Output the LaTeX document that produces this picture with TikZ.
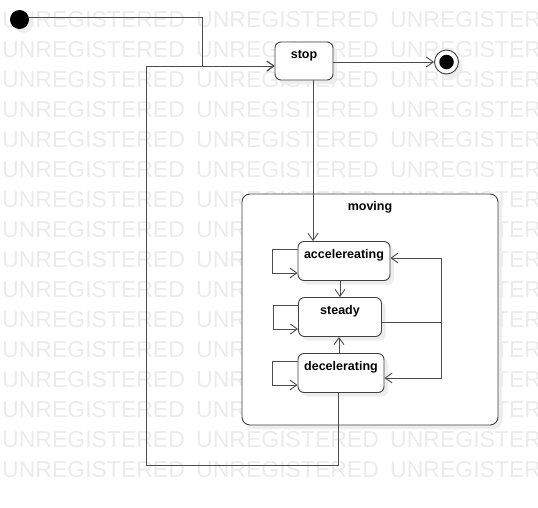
\documentclass[tikz,border=0pt]{standalone}
\usepackage{fontspec}
\setmainfont{Liberation Sans}
\usetikzlibrary{arrows.meta,shadows}
\tikzset{
	statebox/.style={draw=black!75, fill=white, rounded corners=6pt, line width=0.9pt,
		text height=9pt, text depth=15pt, font=\fontsize{12.5}{14}\selectfont\bfseries,
		drop shadow={shadow xshift=4pt, shadow yshift=-4pt, fill=black!7, opacity=1}},
	trans/.style={draw=black!70, line width=0.9pt, -{Straight Barb[length=7pt,width=10pt,line width=0.9pt]}},
	wire/.style={draw=black!70, line width=0.9pt}
}
\begin{document}
\begin{tikzpicture}[x=1pt,y=-1pt]
		\useasboundingbox (0,0) rectangle (538,507);
		\begin{scope}
			\clip (0,0) rectangle (538,507);
			\foreach \row in {0,...,15}
				\foreach \col in {2,196,390}
					\node[anchor=west, inner sep=0pt, text=black!8, font=\fontsize{23}{23}\selectfont] at (\col,20+30*\row) {UNREGISTERED};
		\end{scope}
		\node[statebox, minimum width=256pt, minimum height=231pt, rounded corners=8pt] (moving) at (370,309.5) {};
		\node[anchor=base, font=\fontsize{12.5}{14}\selectfont\bfseries] (movinglbl) at (370,210) {moving};
		\node[statebox, minimum width=58pt, minimum height=38pt] (stop) at (304,61) {stop};
		\node[statebox, minimum width=92pt, minimum height=39pt] (acc) at (344,261) {accelereating};
		\node[statebox, minimum width=83pt, minimum height=39pt] (steady) at (340,317) {steady};
		\node[statebox, minimum width=86pt, minimum height=39pt] (dec) at (341,373) {decelerating};
		\node[circle, fill=black, minimum size=19pt, inner sep=0pt,
			drop shadow={shadow xshift=4pt, shadow yshift=-4pt, fill=black!7, opacity=1}] (init) at (19.5,19.5) {};
		\node[circle, draw=black!75, fill=white, line width=0.9pt, minimum size=24pt, inner sep=0pt,
			drop shadow={shadow xshift=4pt, shadow yshift=-4pt, fill=black!7, opacity=1}] (final) at (446.5,62) {};
		\node[circle, fill=black, minimum size=14.5pt, inner sep=0pt] (finaldot) at (final) {};
		\coordinate (join) at (202,66);
		\coordinate (back) at (146,465);
		\coordinate (rail) at (441.5,322);
		% top: start, stop, end
		\draw[trans] ([yshift=2pt]init.east) -| (join) -- (join -| stop.west);
		\draw[trans] ([xshift=-3pt]dec.south) |- (back) |- (join -| stop.west);
		\draw[trans] (stop.east |- final) -- (final.west);
		\draw[trans] ([xshift=9pt]stop.south) -- ([xshift=9pt]stop.south |- acc.north);
		% inside moving
		\draw[trans] (steady.north |- acc.south) -- (steady.north);
		\draw[trans] ([xshift=-2pt]dec.north) -- ([xshift=-2pt]dec.north |- steady.south);
		\draw[wire] ([yshift=-5pt]steady.east) -- (rail);
		\draw[trans] (rail) |- ([yshift=3pt]acc.east);
		\draw[trans] (rail) |- ([yshift=-5pt]dec.east);
		\foreach \s in {acc,steady,dec}
			\draw[trans] ([yshift=12pt]\s.west) -- ++(-25,0) |- ([yshift=-12pt]\s.west);
	\end{tikzpicture}
\end{document}
